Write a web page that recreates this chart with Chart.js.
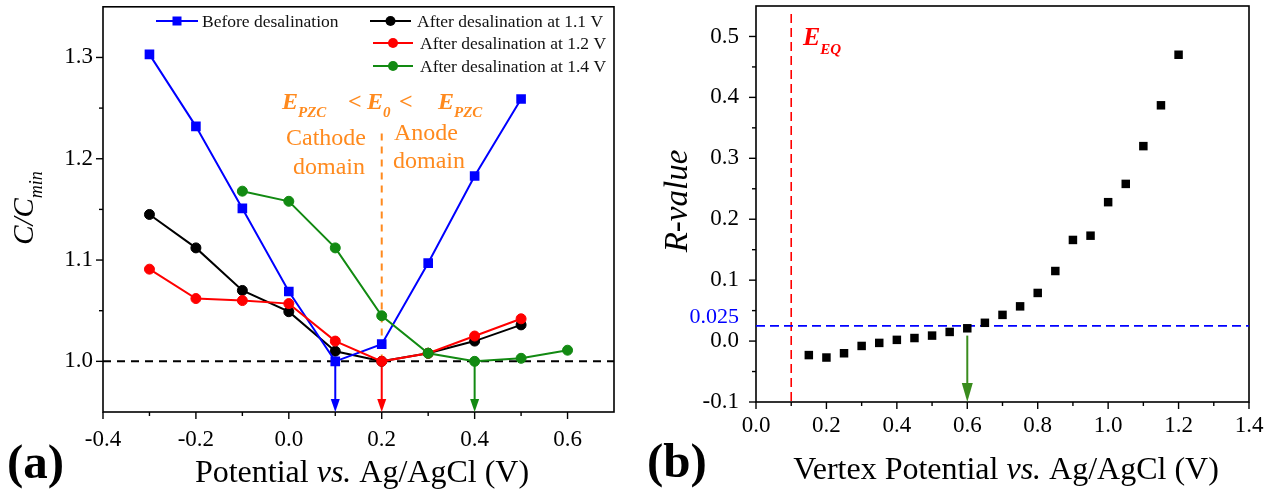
<!DOCTYPE html>
<html><head><meta charset="utf-8">
<script src="https://cdn.jsdelivr.net/npm/chart.js@4.4.1/dist/chart.umd.min.js"></script>
<style>
html,body{margin:0;padding:0;background:#fff;}
#wrap{position:relative;width:1274px;height:493px;overflow:hidden;background:#fff;}
#ca{position:absolute;left:0;top:0;}
#cb{position:absolute;left:640px;top:0;}
</style></head><body>
<div id="wrap"><canvas id="ca" width="640" height="493"></canvas><canvas id="cb" width="634" height="493"></canvas></div>
<script>
// ---------- Panel (a) data ----------
const potentialA   = [-0.3, -0.2, -0.1, 0.0, 0.1, 0.2, 0.3, 0.4, 0.5];
const beforeDesal  = [1.303, 1.232, 1.151, 1.069, 1.000, 1.017, 1.097, 1.183, 1.259];
const after11V     = [1.145, 1.112, 1.070, 1.049, 1.010, 1.000, 1.008, 1.020, 1.036];
const after12V     = [1.091, 1.062, 1.060, 1.057, 1.020, 1.000, 1.008, 1.025, 1.042];
const potential14  = [-0.1, 0.0, 0.1, 0.2, 0.3, 0.4, 0.5, 0.6];
const after14V     = [1.168, 1.158, 1.112, 1.045, 1.008, 1.000, 1.003, 1.011];
const seriesNames  = ['Before desalination', 'After desalination at 1.1 V', 'After desalination at 1.2 V', 'After desalination at 1.4 V'];
const xTicksA      = [-0.4, -0.2, 0.0, 0.2, 0.4, 0.6];
const yTicksA      = [1.0, 1.1, 1.2, 1.3];
const minPotentials = [0.1, 0.2, 0.4];   // arrows to x-axis
const pzcPotential = 0.2;

// ---------- Panel (b) data ----------
const vertexPotential = [0.15, 0.2, 0.25, 0.3, 0.35, 0.4, 0.45, 0.5, 0.55, 0.6, 0.65, 0.7, 0.75, 0.8, 0.85, 0.9, 0.95, 1.0, 1.05, 1.1, 1.15, 1.2];
const rValue          = [-0.023, -0.027, -0.020, -0.008, -0.003, 0.002, 0.005, 0.009, 0.015, 0.021, 0.030, 0.043, 0.057, 0.079, 0.115, 0.166, 0.173, 0.228, 0.258, 0.320, 0.387, 0.470];
const xTicksB = [0.0, 0.2, 0.4, 0.6, 0.8, 1.0, 1.2, 1.4];
const yTicksB = [-0.1, 0.0, 0.1, 0.2, 0.3, 0.4, 0.5];
const eEQ = 0.1;
const rThreshold = 0.025;
const thresholdPotential = 0.6;

const FONT = "'Liberation Serif','Times New Roman',serif";
const BLUE = '#0000ff', RED = '#ff0000', GREEN = '#128a12', BLACK = '#000000', ORANGE = '#ff8a1e';

function runs(ctx, parts, x, y, align) {
  let w = 0;
  parts.forEach(p => { ctx.font = p[1]; w += ctx.measureText(p[0]).width; });
  let cx = align === 'center' ? x - w / 2 : (align === 'right' ? x - w : x);
  ctx.textAlign = 'left'; ctx.textBaseline = 'alphabetic';
  parts.forEach(p => { ctx.font = p[1]; ctx.fillStyle = p[3] || '#000'; ctx.fillText(p[0], cx, y + (p[2] || 0)); cx += ctx.measureText(p[0]).width; });
}
function seg(ctx, x1, y1, x2, y2) { ctx.beginPath(); ctx.moveTo(x1, y1); ctx.lineTo(x2, y2); ctx.stroke(); }
function mids(arr) { const m = []; for (let i = 0; i < arr.length - 1; i++) m.push((arr[i] + arr[i + 1]) / 2); return m; }
function frameAndTicks(chart, xT, yT) {
  const { ctx, chartArea: a, scales: { x, y } } = chart;
  ctx.save();
  ctx.strokeStyle = '#000'; ctx.lineWidth = 1.6; ctx.setLineDash([]);
  ctx.strokeRect(a.left, a.top, a.right - a.left, a.bottom - a.top);
  ctx.lineWidth = 1.4;
  xT.forEach(v => { const p = x.getPixelForValue(v); seg(ctx, p, a.bottom, p, a.bottom + 7); });
  mids(xT).concat([xT[xT.length - 1] + (xT[1] - xT[0]) / 2]).forEach(v => { const p = x.getPixelForValue(v); if (p < a.right - 1) seg(ctx, p, a.bottom, p, a.bottom + 4); });
  yT.forEach(v => { const p = y.getPixelForValue(v); seg(ctx, a.left, p, a.left - 7, p); });
  mids([yT[0] - (yT[1] - yT[0])].concat(yT, [yT[yT.length - 1] + (yT[1] - yT[0])])).forEach(v => { const p = y.getPixelForValue(v); if (p > a.top + 1 && p < a.bottom - 1) seg(ctx, a.left, p, a.left - 4, p); });
  ctx.restore();
}
function arrowDown(ctx, px, y1, y2, color, hw, hl, lw) {
  ctx.save();
  ctx.strokeStyle = color; ctx.fillStyle = color; ctx.lineWidth = lw; ctx.setLineDash([]);
  seg(ctx, px, y1, px, y2 - hl + 1);
  ctx.beginPath(); ctx.moveTo(px - hw / 2, y2 - hl); ctx.lineTo(px + hw / 2, y2 - hl); ctx.lineTo(px, y2); ctx.closePath(); ctx.fill();
  ctx.restore();
}
function scaleCfg(min, max, ticks, pad, fit, isX) {
  return {
    type: 'linear', min: min, max: max,
    afterBuildTicks: s => { s.ticks = ticks.map(v => ({ value: v })); },
    afterFit: s => {
      if (isX) s.height = fit; else s.width = fit;
      s.paddingTop = 0; s.paddingBottom = 0; s.paddingLeft = 0; s.paddingRight = 0;
    },
    grid: { display: false, drawTicks: false, tickLength: 0 },
    border: { display: false },
    ticks: { font: { family: FONT, size: 23 }, color: '#000', padding: pad, maxRotation: 0, autoSkip: false, callback: v => v.toFixed(1) }
  };
}

// ---------- Panel (a) ----------
const pluginA = {
  id: 'decorA',
  beforeDatasetsDraw(chart) {
    const { ctx, chartArea: a, scales: { x, y } } = chart;
    frameAndTicks(chart, xTicksA, yTicksA);
    ctx.save();
    ctx.strokeStyle = '#000'; ctx.lineWidth = 2; ctx.setLineDash([8, 6]);
    seg(ctx, a.left, y.getPixelForValue(1.0), a.right, y.getPixelForValue(1.0));
    ctx.strokeStyle = ORANGE; ctx.lineWidth = 2; ctx.setLineDash([7, 6]);
    seg(ctx, x.getPixelForValue(pzcPotential), y.getPixelForValue(1.225), x.getPixelForValue(pzcPotential), y.getPixelForValue(1.0));
    ctx.restore();
    const cols = [BLUE, RED, GREEN];
    minPotentials.forEach((v, i) => arrowDown(ctx, x.getPixelForValue(v), y.getPixelForValue(1.0), a.bottom, cols[i], 9, 13, 2));
  },
  afterDraw(chart) {
    const { ctx } = chart;
    ctx.save();
    const items = [
      { c: BLUE, s: 'rect', l: 156, r: 198, t: 202, y: 21, n: seriesNames[0] },
      { c: BLACK, s: 'circle', l: 370, r: 411, t: 417, y: 21, n: seriesNames[1] },
      { c: RED, s: 'circle', l: 373, r: 413, t: 420, y: 43, n: seriesNames[2] },
      { c: GREEN, s: 'circle', l: 373, r: 413, t: 420, y: 66, n: seriesNames[3] }
    ];
    items.forEach(it => {
      ctx.strokeStyle = it.c; ctx.fillStyle = it.c; ctx.lineWidth = 2;
      seg(ctx, it.l, it.y, it.r, it.y);
      const cx = (it.l + it.r) / 2;
      if (it.s === 'rect') ctx.fillRect(cx - 4.5, it.y - 4.5, 9, 9);
      else { ctx.beginPath(); ctx.arc(cx, it.y, 5, 0, Math.PI * 2); ctx.fill(); }
      ctx.font = '17.5px ' + FONT; ctx.fillStyle = '#111'; ctx.textAlign = 'left'; ctx.textBaseline = 'middle';
      ctx.fillText(it.n, it.t, it.y + 1);
    });
    const big = 'italic bold 24px ' + FONT, sub = 'italic bold 15px ' + FONT;
    runs(ctx, [['E', big, 0, ORANGE], ['PZC', sub, 8, ORANGE]], 282, 109, 'left');
    runs(ctx, [['<', 'bold 24px ' + FONT, 0, ORANGE]], 348, 109, 'left');
    runs(ctx, [['E', big, 0, ORANGE], ['0', sub, 8, ORANGE]], 367, 109, 'left');
    runs(ctx, [['<', 'bold 24px ' + FONT, 0, ORANGE]], 399, 109, 'left');
    runs(ctx, [['E', big, 0, ORANGE], ['PZC', sub, 8, ORANGE]], 438, 109, 'left');
    ctx.font = '24px ' + FONT; ctx.fillStyle = ORANGE; ctx.textAlign = 'center'; ctx.textBaseline = 'alphabetic';
    ctx.fillText('Cathode', 326, 145); ctx.fillText('domain', 329, 174);
    ctx.fillText('Anode', 426, 140); ctx.fillText('domain', 429, 168);
    runs(ctx, [['Potential ', '32px ' + FONT], ['vs.', 'italic 32px ' + FONT], [' Ag/AgCl (V)', '32px ' + FONT]], 362, 482, 'center');
    ctx.save(); ctx.translate(33, 208); ctx.rotate(-Math.PI / 2);
    runs(ctx, [['C/C', 'italic 29px ' + FONT], ['min', 'italic 18px ' + FONT, 9]], 0, 0, 'center');
    ctx.restore();
    ctx.font = 'bold 49px ' + FONT; ctx.fillStyle = '#000'; ctx.textAlign = 'left'; ctx.textBaseline = 'alphabetic';
    ctx.fillText('(a)', 7, 478);
    ctx.restore();
  }
};
const mk = (xs, ys) => xs.map((v, i) => ({ x: v, y: ys[i] }));
new Chart(document.getElementById('ca'), {
  type: 'line',
  data: {
    datasets: [
      { label: seriesNames[0], data: mk(potentialA, beforeDesal), borderColor: BLUE, backgroundColor: BLUE, borderWidth: 2, pointStyle: 'rect', pointRadius: 6.8, pointBorderWidth: 0, order: 2 },
      { label: seriesNames[1], data: mk(potentialA, after11V), borderColor: BLACK, backgroundColor: BLACK, borderWidth: 2, pointStyle: 'circle', pointRadius: 5, pointBorderWidth: 1, order: 3 },
      { label: seriesNames[2], data: mk(potentialA, after12V), borderColor: RED, backgroundColor: RED, borderWidth: 2, pointStyle: 'circle', pointRadius: 5, pointBorderWidth: 1, order: 1 },
      { label: seriesNames[3], data: mk(potential14, after14V), borderColor: GREEN, backgroundColor: GREEN, borderWidth: 2, pointStyle: 'circle', pointRadius: 5, pointBorderWidth: 1, order: 0 }
    ]
  },
  options: {
    responsive: false, animation: false, devicePixelRatio: 1,
    layout: { padding: { left: 0, right: 26, top: 5, bottom: 0 } },
    plugins: { legend: { display: false }, tooltip: { enabled: false } },
    scales: { x: scaleCfg(-0.4, 0.7, xTicksA, 14, 81, true), y: scaleCfg(0.95, 1.35, yTicksA, 10, 103, false) }
  },
  plugins: [pluginA]
});

// ---------- Panel (b) ----------
const pluginB = {
  id: 'decorB',
  beforeDatasetsDraw(chart) {
    const { ctx, chartArea: a, scales: { x, y } } = chart;
    frameAndTicks(chart, xTicksB, yTicksB);
    ctx.save();
    ctx.lineWidth = 1.6; ctx.setLineDash([9, 5]);
    ctx.strokeStyle = RED;
    seg(ctx, x.getPixelForValue(eEQ), a.top + 8, x.getPixelForValue(eEQ), a.bottom);
    ctx.strokeStyle = BLUE;
    seg(ctx, a.left, y.getPixelForValue(rThreshold), a.right, y.getPixelForValue(rThreshold));
    ctx.restore();
    arrowDown(ctx, x.getPixelForValue(thresholdPotential), y.getPixelForValue(0.009), a.bottom, '#3a8c1e', 11, 19, 2);
  },
  afterDraw(chart) {
    const { ctx, scales: { y } } = chart;
    ctx.save();
    runs(ctx, [['E', 'italic bold 26px ' + FONT, 0, RED], ['EQ', 'italic bold 15px ' + FONT, 9, RED]], 163, 45, 'left');
    ctx.font = '22px ' + FONT; ctx.fillStyle = BLUE; ctx.textAlign = 'right'; ctx.textBaseline = 'middle';
    ctx.fillText(rThreshold.toFixed(3), 99, y.getPixelForValue(rThreshold) - 9);
    runs(ctx, [['Vertex Potential ', '32px ' + FONT], ['vs.', 'italic 32px ' + FONT], [' Ag/AgCl (V)', '32px ' + FONT]], 366, 479, 'center');
    ctx.save(); ctx.translate(47, 201); ctx.rotate(-Math.PI / 2);
    runs(ctx, [['R-value', 'italic 33px ' + FONT]], 0, 0, 'center');
    ctx.restore();
    ctx.font = 'bold 49px ' + FONT; ctx.fillStyle = '#000'; ctx.textAlign = 'left'; ctx.textBaseline = 'alphabetic';
    ctx.fillText('(b)', 7, 477);
    ctx.restore();
  }
};
new Chart(document.getElementById('cb'), {
  type: 'scatter',
  data: { datasets: [{ label: 'R-value', data: mk(vertexPotential, rValue), borderColor: BLACK, backgroundColor: BLACK, pointStyle: 'rect', pointRadius: 6, pointBorderWidth: 0, showLine: false }] },
  options: {
    responsive: false, animation: false, devicePixelRatio: 1,
    layout: { padding: { left: 0, right: 25, top: 5, bottom: 0 } },
    plugins: { legend: { display: false }, tooltip: { enabled: false } },
    scales: { x: scaleCfg(0, 1.4, xTicksB, 10, 91, true), y: scaleCfg(-0.1, 0.55, yTicksB, 17, 116, false) }
  },
  plugins: [pluginB]
});
</script>
</body></html>
